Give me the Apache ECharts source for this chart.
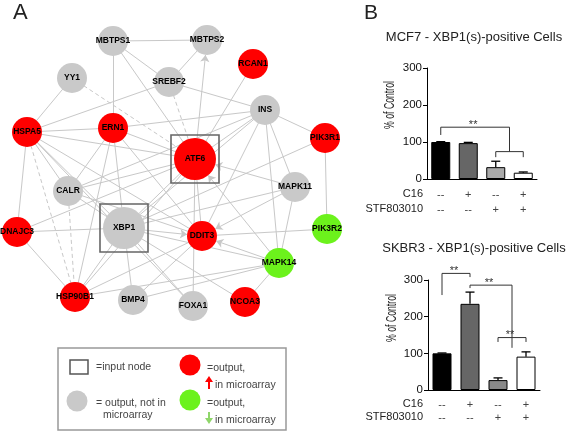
<!DOCTYPE html>
<html><head><meta charset="utf-8">
<script src="https://cdn.jsdelivr.net/npm/echarts@6/dist/echarts.min.js"></script>
<style>html,body{margin:0;padding:0;background:#fff}#c{width:567px;height:432px}</style>
</head><body><div id="c"></div>
<script>
// ---------- Network data (panel A) ----------
const nodeNames = ['MBTPS1','MBTPS2','YY1','SREBF2','RCAN1','INS','HSPA5','ERN1','ATF6','PIK3R1','CALR','MAPK11','XBP1','DDIT3','PIK3R2','DNAJC3','MAPK14','HSP90B1','BMP4','FOXA1','NCOA3'];
const nodeClass = ['none','none','none','none','up','none','up','up','up','up','none','none','none','up','down','up','down','up','none','none','up'];
const inputNodes = ['ATF6','XBP1'];
// layout of the network drawing (node positions in the panel's own units)
const layoutX = [113,207,72,169,253,265,27,113,195,325,68,295,124,202,327,17,279,75,133,193,245];
const layoutY = [41,40,78,82,64,110,132,128,159,138,191,187,228,236,229,232,263,297,300,306,302];
const edges = [
 ['MBTPS1','MBTPS2'],['MBTPS1','SREBF2'],['MBTPS1','ERN1'],['MBTPS1','ATF6'],['MBTPS2','SREBF2'],['ATF6','MBTPS2','arrow'],
 ['YY1','HSPA5'],['YY1','ATF6','dashed'],['SREBF2','HSPA5'],['SREBF2','ATF6','dashed'],['SREBF2','INS'],['RCAN1','ATF6'],
 ['INS','ERN1'],['INS','ATF6'],['INS','PIK3R1'],['INS','MAPK11'],['INS','DDIT3'],['INS','XBP1'],['INS','MAPK14'],['INS','CALR'],
 ['HSPA5','ERN1'],['HSPA5','ATF6'],['HSPA5','CALR'],['HSPA5','XBP1'],['HSPA5','DNAJC3'],['HSPA5','HSP90B1','dashed'],['HSPA5','DDIT3'],
 ['ERN1','XBP1'],['ERN1','ATF6'],['ERN1','CALR'],['ERN1','HSP90B1'],['ERN1','DDIT3'],
 ['ATF6','XBP1'],['ATF6','DDIT3'],['ATF6','CALR'],['ATF6','HSP90B1'],['ATF6','DNAJC3'],
 ['PIK3R1','PIK3R2'],['PIK3R1','XBP1'],
 ['MAPK11','ATF6','arrow'],['MAPK11','DDIT3','arrow'],['MAPK11','MAPK14'],['MAPK11','XBP1'],
 ['PIK3R2','DDIT3'],
 ['MAPK14','DDIT3','arrow'],['MAPK14','ATF6','arrow'],['MAPK14','XBP1'],['MAPK14','NCOA3'],['MAPK14','BMP4'],['MAPK14','HSP90B1'],
 ['XBP1','DDIT3','arrow'],['XBP1','CALR'],['XBP1','HSP90B1'],['XBP1','DNAJC3'],['XBP1','BMP4'],['XBP1','FOXA1'],['XBP1','NCOA3'],
 ['CALR','HSP90B1','dashed'],['CALR','DDIT3'],
 ['DNAJC3','HSP90B1'],['HSP90B1','DDIT3'],['BMP4','DDIT3'],['FOXA1','ATF6'],['FOXA1','HSPA5']
];

// ---------- Bar data (panel B) ----------
const categories = ['1','2','3','4'];
const c16Row = ['--','+','--','+'];
const stfRow = ['--','--','+','+'];
const mcf7Values = [100, 97, 32, 17];
const mcf7Errors = [1, 2, 16, 2];
const skbr3Values = [100, 235, 27, 91];
const skbr3Errors = [1, 32, 6, 13];
const yTicks = [0, 100, 200, 300];
// significance brackets: [fromCat, toCat, level, leftEnd, rightEnd, label]
const mcf7Brackets = [[0, 2.5, 140, 119, 74, '**'], [2, 3, 74, 59, 59, '']];
const skbr3Brackets = [[0, 1, 318, 259, 308, '**'], [1, 2.5, 286, 278, 115, '**'], [2, 3, 143, 131, 131, '**']];

const FONT = 'Liberation Sans, Arial, sans-serif';
const colorOf = {none:'#c9c9c9', up:'#ff0000', down:'#6cf21c'};
const barColorsTop = ['#000000','#666666','#aaaaaa','#ffffff'];
const barColorsBot = ['#000000','#666666','#888888','#ffffff'];

const chart = echarts.init(document.getElementById('c'), null, {renderer:'canvas'});

function nodeIndex(n){ return nodeNames.indexOf(n); }

const graphData = nodeNames.map((n,i)=>({
  name:n, value:[layoutX[i], layoutY[i]],
  symbolSize: inputNodes.includes(n) ? 42 : 30,
  itemStyle:{color: colorOf[nodeClass[i]]}
}));
const graphLinks = edges.map(e=>{
  const l = {source: nodeIndex(e[0]), target: nodeIndex(e[1]),
    lineStyle:{color:'#c8c8c8', width:1, type: e[2]==='dashed' ? [4,3] : 'solid', opacity:1}};
  if (e[2]==='arrow'){ l.symbol=['none','arrow']; l.symbolSize=[0,7]; }
  return l;
});

function xAt(api, x, y){
  const i = Math.floor(x), f = x - i;
  const a = api.coord([i, y]);
  if (f === 0) return a;
  const b = api.coord([i+1, y]);
  return [a[0] + f*(b[0]-a[0]), a[1]];
}

function errorSeries(gi, values, errs){
  return {
    type:'custom', xAxisIndex:gi, yAxisIndex:gi, z:5,
    data: values.map((v,i)=>[i, v, errs[i]]),
    renderItem:(params, api)=>{
      const i = api.value(0), v = api.value(1), e = api.value(2);
      const p0 = api.coord([i, v]), p1 = api.coord([i, v+e]);
      const st = {stroke:'#000', lineWidth:1.3};
      return {type:'group', children:[
        {type:'line', shape:{x1:p0[0],y1:p0[1],x2:p1[0],y2:p1[1]}, style:st},
        {type:'line', shape:{x1:p1[0]-4.5,y1:p1[1],x2:p1[0]+4.5,y2:p1[1]}, style:st}
      ]};
    }
  };
}

function bracketSeries(gi, brackets){
  return {
    type:'custom', xAxisIndex:gi, yAxisIndex:gi, z:6,
    data: brackets.map((b,i)=>[b[0], b[1], b[2], b[3], b[4], i]),
    renderItem:(params, api)=>{
      const b = brackets[params.dataIndex];
      const a0 = xAt(api, b[0], b[2]), a1 = xAt(api, b[1], b[2]);
      const e0 = xAt(api, b[0], b[3]), e1 = xAt(api, b[1], b[4]);
      const st = {stroke:'#333', lineWidth:1, fill:null};
      const ch = [{type:'polyline', shape:{points:[e0, a0, a1, e1]}, style:st}];
      if (b[5]) ch.push({type:'text', style:{text:b[5], x:(a0[0]+a1[0])/2 - 2, y:a0[1]+3, textAlign:'center', textVerticalAlign:'bottom', font:'11px '+FONT, fill:'#333'}});
      return {type:'group', children:ch};
    }
  };
}

function barAxes(gi, lineH, margin){
  return {
    x:{gridIndex:gi, type:'category', data:categories,
      axisLine:{lineStyle:{color:'#000', width:1}},
      axisTick:{alignWithLabel:true, length:3, lineStyle:{color:'#000'}},
      axisLabel:{formatter:(v,i)=>c16Row[i]+'\n'+stfRow[i], lineHeight:lineH, margin:margin, fontSize:11, color:'#444', fontFamily:FONT}},
    y:{gridIndex:gi, type:'value', min:yTicks[0], max:yTicks[yTicks.length-1], interval:100,
      splitLine:{show:false},
      axisLine:{show:true, lineStyle:{color:'#000', width:1}},
      axisTick:{show:true, length:4, lineStyle:{color:'#000'}},
      axisLabel:{fontSize:11.5, color:'#111', margin:5, fontFamily:FONT}}
  };
}
const ax1 = barAxes(1, 15, 8), ax2 = barAxes(2, 13, 8);

const graphics = [
  {type:'text', left:13, top:2, style:{text:'A', font:'22px '+FONT, fill:'#222'}},
  {type:'text', left:364, top:3, style:{text:'B', font:'21px '+FONT, fill:'#222'}},
  {type:'text', x:474, y:37, style:{text:'MCF7 - XBP1(s)-positive Cells', font:'13px '+FONT, fill:'#222', textAlign:'center', textVerticalAlign:'middle'}},
  {type:'text', x:474, y:248, style:{text:'SKBR3 - XBP1(s)-positive Cells', font:'13px '+FONT, fill:'#222', textAlign:'center', textVerticalAlign:'middle'}},
  {type:'text', x:390, y:105, rotation:Math.PI/2, scaleX:0.58, style:{text:'% of Control', font:'15px '+FONT, fill:'#222', textAlign:'center', textVerticalAlign:'middle'}},
  {type:'text', x:392, y:318, rotation:Math.PI/2, scaleX:0.58, style:{text:'% of Control', font:'15px '+FONT, fill:'#222', textAlign:'center', textVerticalAlign:'middle'}},
  {type:'text', x:423, y:194, style:{text:'C16', font:'11px '+FONT, fill:'#222', textAlign:'right', textVerticalAlign:'middle'}},
  {type:'text', x:423, y:209, style:{text:'STF803010', font:'11px '+FONT, fill:'#222', textAlign:'right', textVerticalAlign:'middle'}},
  {type:'text', x:423, y:404, style:{text:'C16', font:'11px '+FONT, fill:'#222', textAlign:'right', textVerticalAlign:'middle'}},
  {type:'text', x:423, y:417, style:{text:'STF803010', font:'11px '+FONT, fill:'#222', textAlign:'right', textVerticalAlign:'middle'}},
  // legend of network
  {type:'rect', shape:{x:58, y:348, width:228, height:82}, style:{fill:'#fff', stroke:'#999', lineWidth:1.5}},
  {type:'rect', shape:{x:70, y:360, width:18, height:14}, style:{fill:'#fff', stroke:'#555', lineWidth:1.5}},
  {type:'text', x:96, y:367, style:{text:'=input node', font:'10.5px '+FONT, fill:'#444', textVerticalAlign:'middle'}},
  {type:'circle', shape:{cx:77, cy:401, r:10.5}, style:{fill:colorOf.none}},
  {type:'text', x:96, y:403, style:{text:'= output, not in', font:'10.5px '+FONT, fill:'#444', textVerticalAlign:'middle'}},
  {type:'text', x:103, y:415, style:{text:'microarray', font:'10.5px '+FONT, fill:'#444', textVerticalAlign:'middle'}},
  {type:'circle', shape:{cx:190, cy:365, r:10.5}, style:{fill:colorOf.up}},
  {type:'text', x:207, y:368, style:{text:'=output,', font:'10.5px '+FONT, fill:'#444', textVerticalAlign:'middle'}},
  {type:'line', shape:{x1:209, y1:389, x2:209, y2:381}, style:{stroke:'#ff0000', lineWidth:2}},
  {type:'polygon', shape:{points:[[205,382],[213,382],[209,376]]}, style:{fill:'#ff0000'}},
  {type:'text', x:215, y:385, style:{text:'in microarray', font:'10.5px '+FONT, fill:'#444', textVerticalAlign:'middle'}},
  {type:'circle', shape:{cx:190, cy:400, r:10.5}, style:{fill:colorOf.down}},
  {type:'text', x:207, y:403, style:{text:'=output,', font:'10.5px '+FONT, fill:'#444', textVerticalAlign:'middle'}},
  {type:'line', shape:{x1:209, y1:412, x2:209, y2:419}, style:{stroke:'#8fd66a', lineWidth:2}},
  {type:'polygon', shape:{points:[[205,418],[213,418],[209,424]]}, style:{fill:'#8fd66a'}},
  {type:'text', x:215, y:420, style:{text:'in microarray', font:'10.5px '+FONT, fill:'#444', textVerticalAlign:'middle'}}
];

const option = {
  animation:false,
  backgroundColor:'#fff',
  textStyle:{fontFamily:FONT},
  grid:[
    {left:0, top:0, width:567, height:432},
    {left:427, top:68, width:110, height:111},
    {left:428, top:280, width:112, height:110}
  ],
  xAxis:[{gridIndex:0, type:'value', min:0, max:567, show:false}, ax1.x, ax2.x],
  yAxis:[{gridIndex:0, type:'value', min:0, max:432, inverse:true, show:false}, ax1.y, ax2.y],
  series:[
    {type:'graph', coordinateSystem:'cartesian2d', xAxisIndex:0, yAxisIndex:0, z:2,
     data:graphData, links:graphLinks,
     label:{show:true, position:'inside', formatter:'{b}', fontSize:8.5, fontWeight:'bold', color:'#000', fontFamily:FONT},
     itemStyle:{borderWidth:0},
     emphasis:{disabled:true}},
    {type:'custom', xAxisIndex:0, yAxisIndex:0, z:3,
     data: inputNodes.map(n=>[layoutX[nodeIndex(n)], layoutY[nodeIndex(n)]]),
     renderItem:(params, api)=>{
       const c = api.coord([api.value(0), api.value(1)]);
       return {type:'rect', shape:{x:c[0]-24, y:c[1]-24, width:48, height:48}, style:{fill:null, stroke:'#666', lineWidth:1.6}};
     }},
    {type:'bar', xAxisIndex:1, yAxisIndex:1, barWidth:19,
     data: mcf7Values.map((v,i)=>({value:v, itemStyle:{color:barColorsTop[i], borderColor:'#000', borderWidth:1}}))},
    errorSeries(1, mcf7Values, mcf7Errors),
    bracketSeries(1, mcf7Brackets),
    {type:'bar', xAxisIndex:2, yAxisIndex:2, barWidth:19,
     data: skbr3Values.map((v,i)=>({value:v, itemStyle:{color:barColorsBot[i], borderColor:'#000', borderWidth:1}}))},
    errorSeries(2, skbr3Values, skbr3Errors),
    bracketSeries(2, skbr3Brackets)
  ],
  graphic: graphics
};
chart.setOption(option);
</script>
</body></html>
